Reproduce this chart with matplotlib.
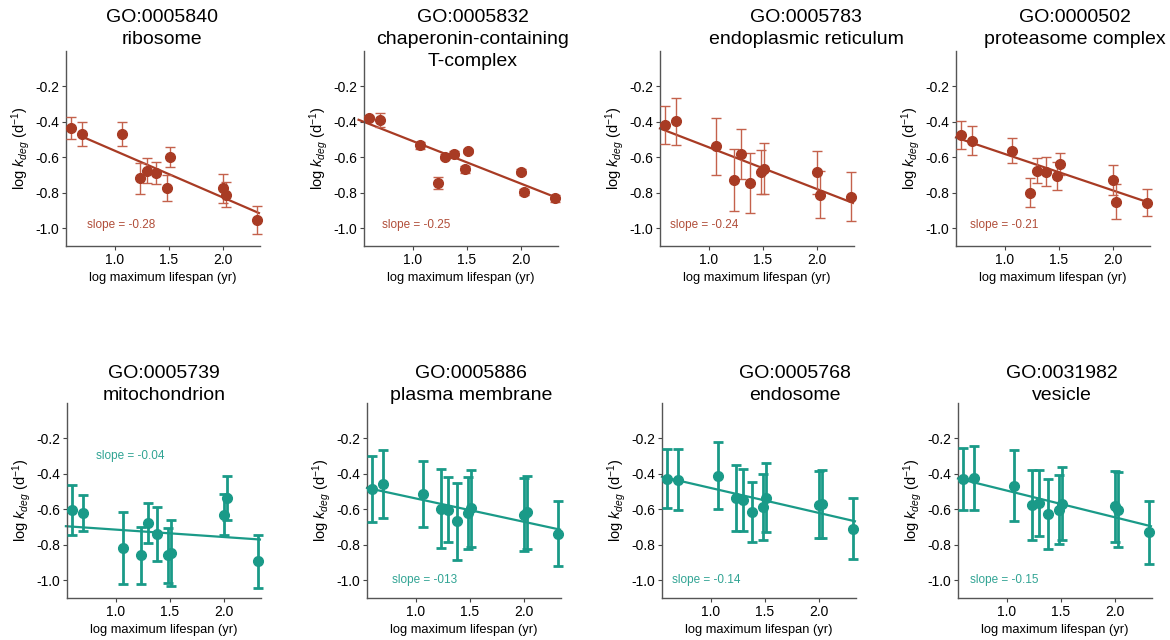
import matplotlib
matplotlib.use("Agg")
import matplotlib.pyplot as plt

plt.rcParams['font.family'] = ['Liberation Sans', 'DejaVu Sans']
plt.rcParams['mathtext.fontset'] = 'custom'
plt.rcParams['mathtext.it'] = 'Liberation Sans:italic'
plt.rcParams['mathtext.rm'] = 'Liberation Sans'

# log maximum lifespan (yr), same species in every panel
lifespan = [0.60, 0.70, 1.07, 1.23, 1.30, 1.38, 1.48, 1.51, 2.00, 2.03, 2.31]

go_ids = ["GO:0005840", "GO:0005832", "GO:0005783", "GO:0000502",
          "GO:0005739", "GO:0005886", "GO:0005768", "GO:0031982"]
go_names = ["ribosome", "chaperonin-containing\nT-complex", "endoplasmic reticulum",
            "proteasome complex", "mitochondrion", "plasma membrane", "endosome", "vesicle"]

kdeg = [
    [-0.435, -0.469, -0.469, -0.718, -0.675, -0.688, -0.775, -0.596, -0.775, -0.810, -0.953],
    [-0.379, -0.388, -0.533, -0.746, -0.597, -0.580, -0.667, -0.562, -0.680, -0.795, -0.831],
    [-0.418, -0.397, -0.538, -0.726, -0.581, -0.745, -0.683, -0.664, -0.685, -0.810, -0.822],
    [-0.473, -0.507, -0.563, -0.799, -0.675, -0.680, -0.705, -0.637, -0.729, -0.850, -0.855],
    [-0.602, -0.620, -0.817, -0.860, -0.677, -0.738, -0.860, -0.845, -0.630, -0.536, -0.892],
    [-0.484, -0.456, -0.513, -0.597, -0.601, -0.667, -0.620, -0.595, -0.629, -0.616, -0.737],
    [-0.426, -0.432, -0.409, -0.535, -0.548, -0.614, -0.586, -0.535, -0.573, -0.569, -0.708],
    [-0.428, -0.424, -0.466, -0.575, -0.564, -0.626, -0.601, -0.567, -0.582, -0.601, -0.729],
]
kdeg_err = [
    [0.064, 0.067, 0.068, 0.087, 0.072, 0.064, 0.073, 0.057, 0.080, 0.070, 0.080],
    [0.010, 0.040, 0.020, 0.033, 0.015, 0.015, 0.020, 0.012, 0.012, 0.015, 0.020],
    [0.106, 0.134, 0.160, 0.174, 0.139, 0.169, 0.122, 0.143, 0.123, 0.132, 0.139],
    [0.080, 0.082, 0.070, 0.082, 0.070, 0.080, 0.080, 0.063, 0.085, 0.100, 0.075],
    [0.140, 0.100, 0.204, 0.160, 0.112, 0.154, 0.156, 0.185, 0.116, 0.126, 0.150],
    [0.187, 0.190, 0.188, 0.223, 0.185, 0.217, 0.205, 0.215, 0.205, 0.205, 0.184],
    [0.165, 0.173, 0.189, 0.188, 0.175, 0.168, 0.187, 0.194, 0.190, 0.190, 0.171],
    [0.174, 0.179, 0.202, 0.196, 0.185, 0.196, 0.196, 0.208, 0.200, 0.210, 0.179],
]
# fitted line: (x start, y start, x end, y end)
fit_lines = [
    (0.68, -0.478, 2.33, -0.914),
    (0.50, -0.388, 2.33, -0.828),
    (0.55, -0.437, 2.33, -0.857),
    (0.55, -0.488, 2.33, -0.855),
    (0.54, -0.695, 2.33, -0.770),
    (0.55, -0.479, 2.33, -0.714),
    (0.55, -0.416, 2.33, -0.667),
    (0.55, -0.426, 2.33, -0.695),
]
slope_labels = ["slope = -0.28", "slope = -0.25", "slope = -0.24", "slope = -0.21",
                "slope = -0.04", "slope = -013", "slope = -0.14", "slope = -0.15"]
slope_pos = [(0.74, -0.98), (0.72, -0.98), (0.64, -0.98), (0.68, -0.98),
             (0.82, -0.30), (0.78, -1.0), (0.64, -1.0), (0.66, -1.0)]

red = '#a83b24'
red_err = '#c4614c'
teal = '#1a9a88'

fig = plt.figure(figsize=(11.7, 6.4), dpi=100)

W, H = 1170, 640
ax_left = [66, 364, 660, 956, 67, 367, 662, 958]
ax_w = 194
ax_bottom = [246] * 4 + [598] * 4
ax_h = 195
title_x = [162, 473, 806, 1075, 164, 471, 795, 1062]
title_top = [9] * 4 + [365] * 4

for i in range(8):
    ax = fig.add_axes([ax_left[i] / W, 1 - ax_bottom[i] / H, ax_w / W, ax_h / H])
    top = i < 4
    c = red if top else teal
    ec = red_err if top else teal
    lw = 1.0 if top else 2.0
    ax.errorbar(lifespan, kdeg[i], yerr=kdeg_err[i], fmt='o', color=c, ecolor=ec,
                elinewidth=lw, capsize=3.5, capthick=lw, markersize=7, clip_on=False, zorder=3)
    x0, y0, x1, y1 = fit_lines[i]
    ax.plot([x0, x1], [y0, y1], color=c, lw=1.6, clip_on=False, zorder=2)
    ax.text(slope_pos[i][0], slope_pos[i][1], slope_labels[i], color=c, alpha=0.9,
            fontsize=8.5, va='center', ha='left')

    ax.set_xlim(0.55, 2.34)
    ax.set_ylim(-1.1, 0.0)
    ax.set_xticks([1.0, 1.5, 2.0])
    ax.set_xticklabels(['1.0', '1.5', '2.0'])
    ax.set_yticks([-0.2, -0.4, -0.6, -0.8, -1.0])
    ax.set_yticklabels(['-0.2', '-0.4', '-0.6', '-0.8', '-1.0'])
    ax.tick_params(labelsize=10, length=3, width=0.8, color='#444444', pad=2)
    for s in ['top', 'right']:
        ax.spines[s].set_visible(False)
    for s in ['left', 'bottom']:
        ax.spines[s].set_color('#555555')
        ax.spines[s].set_linewidth(1.0)
    ax.set_xlabel('log maximum lifespan (yr)', fontsize=9.3, labelpad=4)
    ax.set_ylabel(r'log $k_{deg}$ (d$^{\mathrm{-1}}$)', fontsize=10.5, labelpad=2)

    fig.text(title_x[i] / W, 1 - title_top[i] / H, go_ids[i] + "\n" + go_names[i],
             ha='center', va='top', fontsize=14, linespacing=1.38)

fig.savefig('out.png', dpi=100)
